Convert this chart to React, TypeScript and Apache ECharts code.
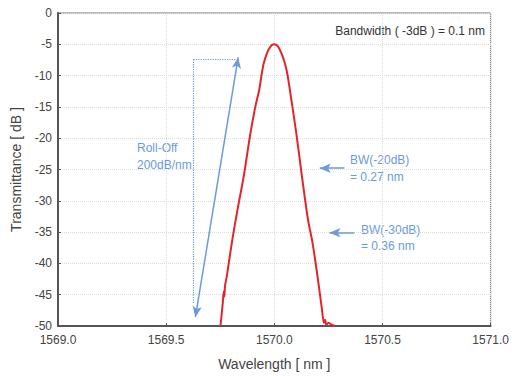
import React, { useEffect, useRef } from "react";
import * as echarts from "echarts";

// Measured spectrum (wavelength in nm, transmittance in dB)
const wavelength = [
  1569.751, 1569.757, 1569.762, 1569.766, 1569.769, 1569.772, 1569.781, 1569.804,
  1569.831, 1569.858, 1569.889, 1569.912, 1569.93, 1569.94, 1569.95, 1569.96,
  1569.97, 1569.98, 1569.99, 1570.0, 1570.01, 1570.02, 1570.03, 1570.04, 1570.05,
  1570.06, 1570.072, 1570.102, 1570.128, 1570.156, 1570.176, 1570.199, 1570.22,
  1570.229, 1570.235, 1570.24, 1570.25, 1570.265, 1570.28,
];
const transmittance = [
  -50, -48, -46.2, -44.5, -45.3, -43.6, -41.9, -36.6,
  -31.2, -26.2, -19.3, -15, -12.3, -10.1, -8.2, -7.0,
  -6.1, -5.5, -5.1, -5.0, -5.1, -5.5, -6.2, -7.1, -8.2,
  -9.7, -12.3, -19.3, -26.2, -33.1, -36.6, -41.9, -47.3,
  -49.5, -49.0, -49.8, -49.5, -49.8, -50,
];

const xMin = 1569.0;
const xMax = 1571.0;
const xStep = 0.5;
const yMin = -50;
const yMax = 0;
const yStep = 5;

const xTitle = "Wavelength [ nm ]";
const yTitle = "Transmittance [ dB ]";
const noteBandwidth = "Bandwidth ( -3dB ) = 0.1 nm";
const noteRollOff = ["Roll-Off", "200dB/nm"];
const noteBW20 = ["BW(-20dB)", "= 0.27 nm"];
const noteBW30 = ["BW(-30dB)", "= 0.36 nm"];

// annotation geometry in data coordinates
const rollArrow = [[1569.635, -48.6], [1569.833, -7.1]];
const rollDottedV = [[1569.626, -7.4], [1569.626, -46.4]];
const rollDottedH = [[1569.626, -7.4], [1569.826, -7.4]];
const bw20Arrow = [[1570.324, -24.8], [1570.21, -24.8]];
const bw30Arrow = [[1570.37, -35.1], [1570.255, -35.1]];

const BLUE = "#6b9bd9";
const RED = "#e0262d";
const FONT = "Liberation Sans, Arial, sans-serif";

export default function App() {
  const ref = useRef<HTMLDivElement>(null);

  useEffect(() => {
    if (!ref.current) return;
    const chart = echarts.init(ref.current, undefined, { renderer: "svg" });
    const data = wavelength.map((w, i) => [w, transmittance[i]]);
    const arrowLine = (pts: number[][], both: boolean) => [
      { coord: pts[0], symbol: both ? "arrow" : "none", symbolSize: [7, 11] },
      { coord: pts[1], symbol: "arrow", symbolSize: [7, 11] },
    ];
    const dotted = (pts: number[][]) => [
      { coord: pts[0], symbol: "none", lineStyle: { type: "dotted", width: 1.2, color: BLUE } },
      { coord: pts[1], symbol: "none" },
    ];
    chart.setOption({
      animation: false,
      backgroundColor: "#ffffff",
      textStyle: { fontFamily: FONT },
      grid: {
        left: 58,
        top: 13,
        right: 18,
        bottom: 50,
        show: true,
        borderColor: "#777",
        borderWidth: 1,
        backgroundColor: "transparent",
      },
      xAxis: {
        type: "value",
        min: xMin,
        max: xMax,
        interval: xStep,
        name: xTitle,
        nameLocation: "middle",
        nameGap: 31,
        nameTextStyle: { fontSize: 14, color: "#444", fontFamily: FONT },
        axisLine: { onZero: false, lineStyle: { color: "#555", width: 2 } },
        axisTick: { inside: true, length: 3, lineStyle: { color: "#555" } },
        axisLabel: {
          color: "#444",
          fontSize: 12,
          margin: 8,
          fontFamily: FONT,
          formatter: (v: number) => v.toFixed(1),
        },
        splitLine: { show: true, lineStyle: { type: "dotted", color: "#dcdcdc" } },
      },
      yAxis: {
        type: "value",
        min: yMin,
        max: yMax,
        interval: yStep,
        name: yTitle,
        nameLocation: "middle",
        nameRotate: 90,
        nameGap: 35,
        nameTextStyle: { fontSize: 14, color: "#444", fontFamily: FONT },
        axisLine: { show: true, lineStyle: { color: "#555", width: 2 } },
        axisTick: { show: true, inside: true, length: 3, lineStyle: { color: "#555" } },
        axisLabel: { color: "#444", fontSize: 12, margin: 6, fontFamily: FONT },
        splitLine: { show: true, lineStyle: { type: "dotted", color: "#dcdcdc" } },
      },
      series: [
        {
          type: "line",
          data,
          showSymbol: false,
          smooth: 0.25,
          lineStyle: { color: RED, width: 2 },
          z: 3,
          markLine: {
            silent: true,
            animation: false,
            label: { show: false },
            lineStyle: { color: BLUE, width: 1.5, type: "solid" },
            data: [
              arrowLine(rollArrow, true),
              arrowLine(bw20Arrow, false),
              arrowLine(bw30Arrow, false),
              dotted(rollDottedV),
              dotted(rollDottedH),
            ],
          },
        },
      ],
      graphic: [
        {
          type: "text",
          right: 27,
          top: 25,
          style: { text: noteBandwidth, fill: "#333", font: `12px ${FONT}` },
        },
        {
          type: "text",
          left: 137,
          top: 139,
          style: {
            text: noteRollOff.join("\n"),
            fill: BLUE,
            font: `12px ${FONT}`,
            lineHeight: 17,
          },
        },
        {
          type: "text",
          left: 350,
          top: 151,
          style: {
            text: noteBW20.join("\n"),
            fill: BLUE,
            font: `12px ${FONT}`,
            lineHeight: 17,
          },
        },
        {
          type: "text",
          left: 361,
          top: 222,
          style: {
            text: noteBW30.join("\n"),
            fill: BLUE,
            font: `12px ${FONT}`,
            lineHeight: 16,
          },
        },
      ],
    });
    return () => chart.dispose();
  }, []);

  return (
    <div
      ref={ref}
      style={{ position: "fixed", left: 0, top: 0, width: 512, height: 376, background: "#fff" }}
    />
  );
}
